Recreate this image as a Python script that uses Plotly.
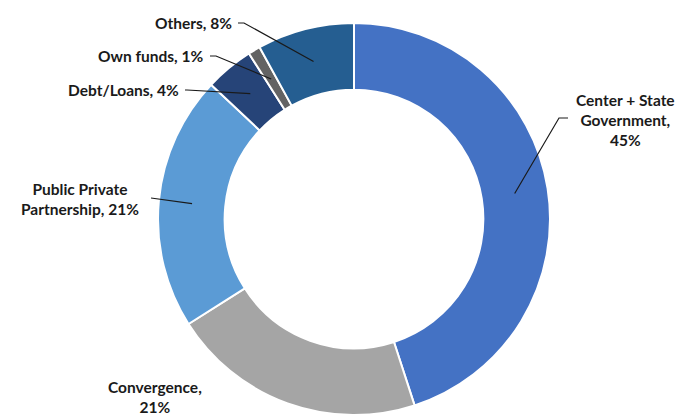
import math
import plotly.graph_objects as go

# ---- data ----
categories = ["Center + State Government", "Convergence", "Public Private Partnership",
              "Debt/Loans", "Own funds", "Others"]
values = [45, 21, 21, 4, 1, 8]
label_text = ["Center + State<br>Government,<br>{v}%", "Convergence,<br>{v}%",
              "Public Private<br>Partnership, {v}%", "Debt/Loans, {v}%",
              "Own funds, {v}%", "Others, {v}%"]
colors = ["#4472C4", "#A5A5A5", "#5B9BD5", "#264478", "#636363", "#255E91"]

# ---- layout geometry (pixels) ----
W, H = 681, 420
cx, cy, R = 354, 219, 196
hole = 0.66

# label placement: (x, y, xanchor, align, leader start (x,y), elbow x) ; None = no leader
label_pos = [
    (625, 120, "center", "center", (568, 118), 559),
    (155, 397, "center", "center", None, None),
    (80, 199, "center", "center", (151, 198), 151),
    (181, 90, "right", "right", (185, 90), 187),
    (206, 56, "right", "right", (210, 56), 216),
    (234, 23, "right", "right", (238, 23), 244),
]

def px(x):
    return x / W

def py(y):
    return 1 - y / H

fig = go.Figure(go.Pie(
    labels=categories, values=values, sort=False, direction="clockwise", rotation=0,
    hole=hole, textinfo="none", hoverinfo="label+percent",
    marker=dict(colors=colors, line=dict(color="white", width=2)),
    domain=dict(x=[px(cx - R), px(cx + R)], y=[py(cy + R), py(cy - R)]),
    showlegend=False,
))

total = sum(values)
cum = 0
r_mid = R * (1 + hole) / 2
annotations = []
shapes = []
for i, v in enumerate(values):
    mid = (cum + v / 2) / total * 2 * math.pi
    cum += v
    tx = cx + r_mid * math.sin(mid)
    ty = cy - r_mid * math.cos(mid)
    lx, ly, xa, al, start, elbow = label_pos[i]
    annotations.append(dict(
        x=px(lx), y=py(ly), xref="paper", yref="paper", xanchor=xa, yanchor="middle",
        align=al, showarrow=False, text=label_text[i].format(v=v),
        font=dict(family="Lato", size=15.5, color="#1a1a1a", weight="bold"),
    ))
    if start is not None:
        path = "M {} {} L {} {} L {} {}".format(px(start[0]), py(start[1]), px(elbow), py(start[1]),
                                                 px(tx), py(ty))
        shapes.append(dict(type="path", xref="paper", yref="paper", path=path,
                           line=dict(color="#1a1a1a", width=1.2)))

fig.update_layout(
    width=W, height=H, margin=dict(l=0, r=0, t=0, b=0),
    paper_bgcolor="white", plot_bgcolor="white",
    annotations=annotations, shapes=shapes,
)

fig.write_html("out.html")
